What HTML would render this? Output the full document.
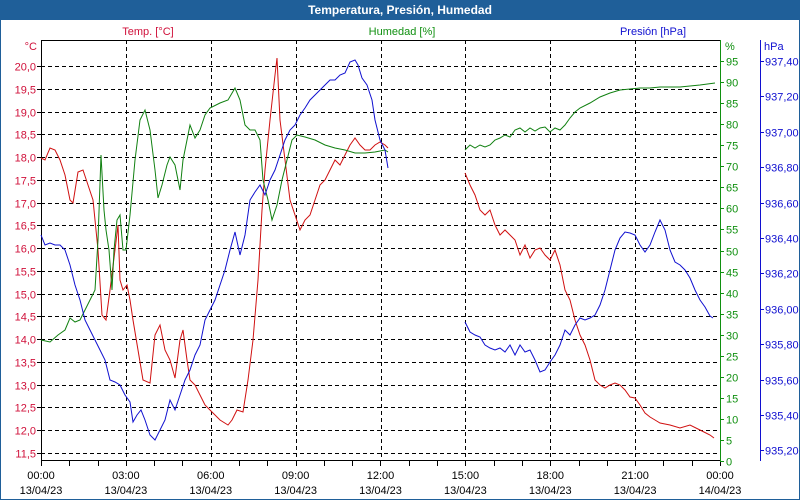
<!DOCTYPE html>
<html><head><meta charset="utf-8"><style>
html,body{margin:0;padding:0;background:#fff}
svg{display:block}
text{font-family:"Liberation Sans",sans-serif;font-size:11px}
</style></head><body>
<svg width="800" height="500" viewBox="0 0 800 500" xmlns="http://www.w3.org/2000/svg">
<rect x="0" y="0" width="800" height="500" fill="#fff"/>
<rect x="0.5" y="0.5" width="799" height="499" fill="none" stroke="#1f5f99"/>
<rect x="0" y="0" width="800" height="20" fill="#1f5f99"/>
<text x="400" y="14" text-anchor="middle" fill="#fff" font-weight="bold" style="font-size:12px">Temperatura, Presión, Humedad</text>
<text x="148" y="35" text-anchor="middle" fill="#d0103a">Temp. [°C]</text>
<text x="402" y="35" text-anchor="middle" fill="#109010">Humedad [%]</text>
<text x="653" y="35" text-anchor="middle" fill="#1010d0">Presión [hPa]</text>
<text x="37" y="50" text-anchor="end" fill="#d0103a">°C</text>
<text x="725" y="50" fill="#109010">%</text>
<text x="764" y="50" fill="#1010d0">hPa</text>
<g id="grid" stroke="#000" stroke-dasharray="4,3" stroke-width="1"></g>
<g id="axes"></g>
<rect x="41.5" y="40.5" width="679" height="420" fill="none" stroke="#000"/>
<line x1="720.5" y1="40" x2="720.5" y2="461" stroke="#109010"/>
<line x1="760.5" y1="40" x2="760.5" y2="461" stroke="#1010d0"/>
<g id="lines" fill="none" stroke-width="1"></g>
</svg>
<script>
var NS="http://www.w3.org/2000/svg",s=document.querySelector('svg');
function el(p,t,a,tx){var e=document.createElementNS(NS,t);for(var k in a)e.setAttribute(k,a[k]);if(tx!=null)e.textContent=tx;p.appendChild(e);return e;}
var g=document.getElementById('grid'),ax=document.getElementById('axes');
for(var i=0;i<=17;i++){var T=20-i*0.5,y=Math.round(66+i*22.75)+0.5;
 el(g,'line',{x1:41,y1:y,x2:720,y2:y});
 el(ax,'line',{x1:37,y1:y,x2:41,y2:y,stroke:'#000'});
 el(ax,'text',{x:36,y:y+4,'text-anchor':'end',fill:'#d0103a'},T.toFixed(1).replace('.',','));}
for(var i=1;i<8;i++){var x=Math.round(41+i*84.875)+0.5;el(g,'line',{x1:x,y1:40,x2:x,y2:461});}
for(var i=0;i<=24;i++){var x=Math.round(41+i*28.29)+0.5;el(ax,'line',{x1:x,y1:461,x2:x,y2:466,stroke:'#000'});}
var tl=['00:00','03:00','06:00','09:00','12:00','15:00','18:00','21:00','00:00'];
for(var i=0;i<9;i++){var x=41+i*84.875;el(ax,'text',{x:x,y:479,'text-anchor':'middle',fill:'#000'},tl[i]);
 el(ax,'text',{x:x,y:494,'text-anchor':'middle',fill:'#000'},i==8?'14/04/23':'13/04/23');}
for(var h=0;h<=95;h+=5){var y=Math.round(461-h*4.21)+0.5;el(ax,'line',{x1:720,y1:y,x2:724,y2:y,stroke:'#109010'});
 el(ax,'text',{x:726,y:y+4,fill:'#109010'},h);}
for(var i=0;i<=11;i++){var p=937.4-i*0.2,y=Math.round(61+i*35.4)+0.5;el(ax,'line',{x1:760,y1:y,x2:764,y2:y,stroke:'#1010d0'});
 el(ax,'text',{x:765,y:y+4,fill:'#1010d0'},p.toFixed(2).replace('.',','));}
var L=document.getElementById('lines');
function pl(c,a){el(L,'polyline',{stroke:c,points:a.join(' ')});}
pl('#d01010',["41,158","45,160","50,148","55,150","60,160","65,175","70,200","73,203","78,172","83,170","88,185","93,200","98,250","102,315","106,320","110,290","115,250","118,225","120,280","123,290","127,285","130,300","133,320","138,350","143,380","150,383","155,335","160,325","165,350","170,360","175,378","180,340","183,330","187,360","190,380","195,385","200,395","205,405","210,410","220,420","228,425","232,420","237,410","243,412","248,380","253,340","258,280","262,210","265,170","270,120","275,75","277,58","280,120","285,160","290,200","295,215","300,230","305,220","310,215","315,200","320,185","325,180","330,170","335,160","340,165","345,155","350,145","355,138","360,145","365,150","370,150","375,145","380,142","385,145","388,148"]);
pl('#d01010',["465,173","470,185","475,195","480,210","485,215","490,210","495,225","500,235","505,230","510,235","515,240","520,255","525,245","530,258","535,250","540,248","545,255","550,260","555,250","560,265","565,290","570,300","575,320","580,335","585,345","590,360","595,380","600,385","605,388","610,385","615,383","620,385","625,390","630,397","635,398","640,405","645,413","650,417","655,420","660,423","670,425","680,428","690,425","700,430","710,435","714,438"]);
pl('#108010',["41,340","50,342","58,335","65,330","70,318","75,322","80,320","85,310","90,300","95,290","98,240","101,155","104,210","106,230","109,250","112,290","114,250","117,220","120,215","123,250","126,250","130,215","135,160","140,120","145,110","150,130","155,170","158,198","162,185","167,165","170,157","175,165","180,190","183,160","187,140","190,125","195,138","200,130","205,115","210,108","220,103","228,100","235,88","240,100","245,125","250,130","255,130","260,140","263,180","268,200","272,220","277,205","282,180","287,160","292,140","297,135","305,137","315,140","325,145","335,148","345,150","355,153","365,153","375,152","385,150","388,152"]);
pl('#108010',["465,150","470,145","475,148","480,145","485,147","490,145","495,140","500,138","505,135","510,137","515,130","520,128","525,132","530,128","535,131","540,128","545,127","550,132","555,128","560,130","565,125","570,118","575,112","580,108","590,103","600,97","610,93","620,90","630,89","640,88","650,88","660,87","680,87","700,85","715,83"]);
pl('#1010d0',["41,235","45,245","50,243","55,245","60,245","65,250","70,265","75,285","80,300","85,320","90,330","95,340","100,350","105,360","110,380","115,382","120,385","125,395","130,402","133,422","137,415","141,410","145,420","150,435","155,440","160,430","165,420","170,400","175,410","180,395","185,380","190,370","195,355","200,345","205,320","210,310","215,300","220,285","225,270","230,250","235,232","240,255","245,235","250,200","255,192","260,185","265,195","270,180","275,170","280,155","285,140","290,130","295,125","300,115","305,108","310,100","315,95","320,90","325,85","330,80","335,80","340,75","345,73","350,62","355,60","358,65","362,78","367,85","372,100","375,120","380,140","385,150","388,168"]);
pl('#1010d0',["465,322","470,332","475,335","480,337","485,345","490,348","495,350","500,348","505,352","510,345","515,355","520,345","525,352","530,350","535,360","540,372","545,370","550,362","555,355","560,345","565,330","570,335","575,325","580,318","585,320","590,318","595,315","600,305","605,290","610,270","615,250","620,238","625,232","630,233","635,235","640,245","645,252","650,245","655,232","660,220","665,230","670,250","675,262","680,265","685,270","690,278","695,290","700,300","705,307","710,316","713,318"]);
</script>
</body></html>
